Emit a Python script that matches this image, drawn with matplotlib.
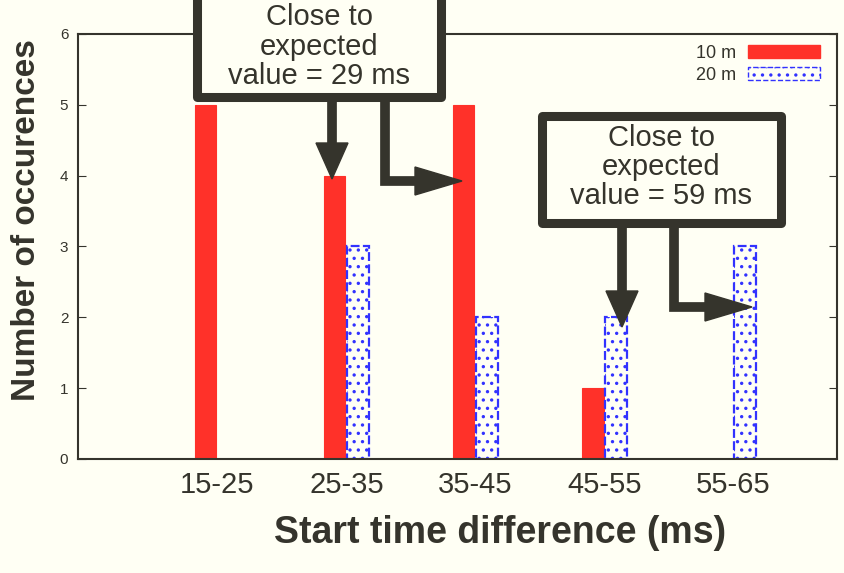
import matplotlib
matplotlib.use('Agg')
import matplotlib.pyplot as plt
import numpy as np
from matplotlib.patches import Patch, Rectangle, Polygon
from matplotlib.lines import Line2D

# Datos
categorias = ['15-25', '25-35', '35-45', '45-55', '55-65']
ocurrencias_10m = [5, 4, 5, 1, 0]
ocurrencias_20m = [0, 3, 2, 2, 3]
series = ['10 m', '20 m']

fondo = '#fffff4'
tinta = '#35342c'
rojo = '#ff3129'
azul = '#3232ff'

plt.rcParams['font.family'] = ['Liberation Sans', 'DejaVu Sans']
plt.rcParams['hatch.linewidth'] = 1.2

fig = plt.figure(figsize=(8.44, 5.73), dpi=100, facecolor=fondo)
ax = fig.add_axes([0.0924, 0.199, 0.899, 0.7417], facecolor=fondo)

x = np.arange(len(categorias))
w = 0.165
b1 = ax.bar(x - 0.09, ocurrencias_10m, w, color=rojo, edgecolor=rojo, lw=0.8,
            label=series[0], zorder=2)
b2 = ax.bar(x + 0.09, ocurrencias_20m, w, facecolor=fondo, edgecolor=azul,
            hatch='..', lw=1.6, ls=(0, (4, 1.5)), label=series[1], zorder=2)
# gnuplot no dibuja las barras de altura cero
for barras in (b1, b2):
    for r in barras:
        if r.get_height() == 0:
            r.set_visible(False)

ax.set_xlim(-1.08, 4.8)
ax.set_ylim(0, 6)
ax.set_yticks(range(7))
ax.set_xticks(x)
ax.set_xticklabels(categorias, fontsize=21, color=tinta)
ax.tick_params(axis='y', direction='in', length=6, right=True,
               labelsize=11, colors=tinta, pad=7)
ax.tick_params(axis='x', direction='in', length=0, pad=9)
for s in ax.spines.values():
    s.set_color(tinta)
    s.set_linewidth(1.5)

ax.set_xlabel('Start time difference (ms)', fontsize=27, fontweight='bold',
              color=tinta)
ax.xaxis.set_label_coords(0.556, -0.132)
ax.set_ylabel('Number of occurences', fontsize=24, fontweight='bold',
              color=tinta)
ax.yaxis.set_label_coords(-0.047, 0.562)

leg = ax.legend(handles=[Patch(facecolor=rojo, edgecolor=rojo),
                         Patch(facecolor=fondo, edgecolor=azul, hatch='..',
                               ls='--')],
                labels=series, loc='upper right', bbox_to_anchor=(1.0, 1.012),
                frameon=False, markerfirst=False, fontsize=13,
                handlelength=4.0, handleheight=0.7, labelspacing=0.25,
                handletextpad=0.7)
for t in leg.get_texts():
    t.set_color(tinta)

# Capa de anotaciones en pixeles
ov = fig.add_axes([0, 0, 1, 1], facecolor='none')
ov.set_xlim(0, 844)
ov.set_ylim(573, 0)
ov.axis('off')


def caja(x0, x1, y0, y1, lineas, ytxt):
    ov.add_patch(Rectangle((x0, y0), x1 - x0, y1 - y0, facecolor=fondo,
                           edgecolor=tinta, lw=6.5, joinstyle='round',
                           clip_on=False, zorder=5))
    for t, yy in zip(lineas, ytxt):
        ov.text((x0 + x1) / 2, yy, t, ha='center', va='center', fontsize=21,
                color=tinta, zorder=6)


def flecha_abajo(xs, y0, ytip):
    ov.add_line(Line2D([xs, xs], [y0, ytip - 34], color=tinta, lw=7,
                       solid_capstyle='butt', zorder=5))
    ov.add_patch(Polygon([(xs - 16, ytip - 36), (xs + 16, ytip - 36),
                          (xs, ytip)], color=tinta, zorder=5))


def flecha_codo(xs, y0, yh, xtip):
    ov.add_line(Line2D([xs, xs, xtip - 45], [y0, yh, yh], color=tinta, lw=7,
                       solid_joinstyle='miter', solid_capstyle='butt',
                       zorder=5))
    ov.add_patch(Polygon([(xtip - 47, yh - 14), (xtip - 47, yh + 14),
                          (xtip, yh)], color=tinta, zorder=5))


caja(197, 441, -40, 97, ['Close to', 'expected', 'value = 29 ms'],
     [17, 47, 76])
flecha_abajo(332, 100, 179)
flecha_codo(385, 100, 181, 462)

caja(542, 781, 116, 223, ['Close to', 'expected', 'value = 59 ms'],
     [138, 167, 196])
flecha_abajo(622, 226, 327)
flecha_codo(674, 226, 307, 752)

fig.savefig('out.png', dpi=100, facecolor=fondo)
